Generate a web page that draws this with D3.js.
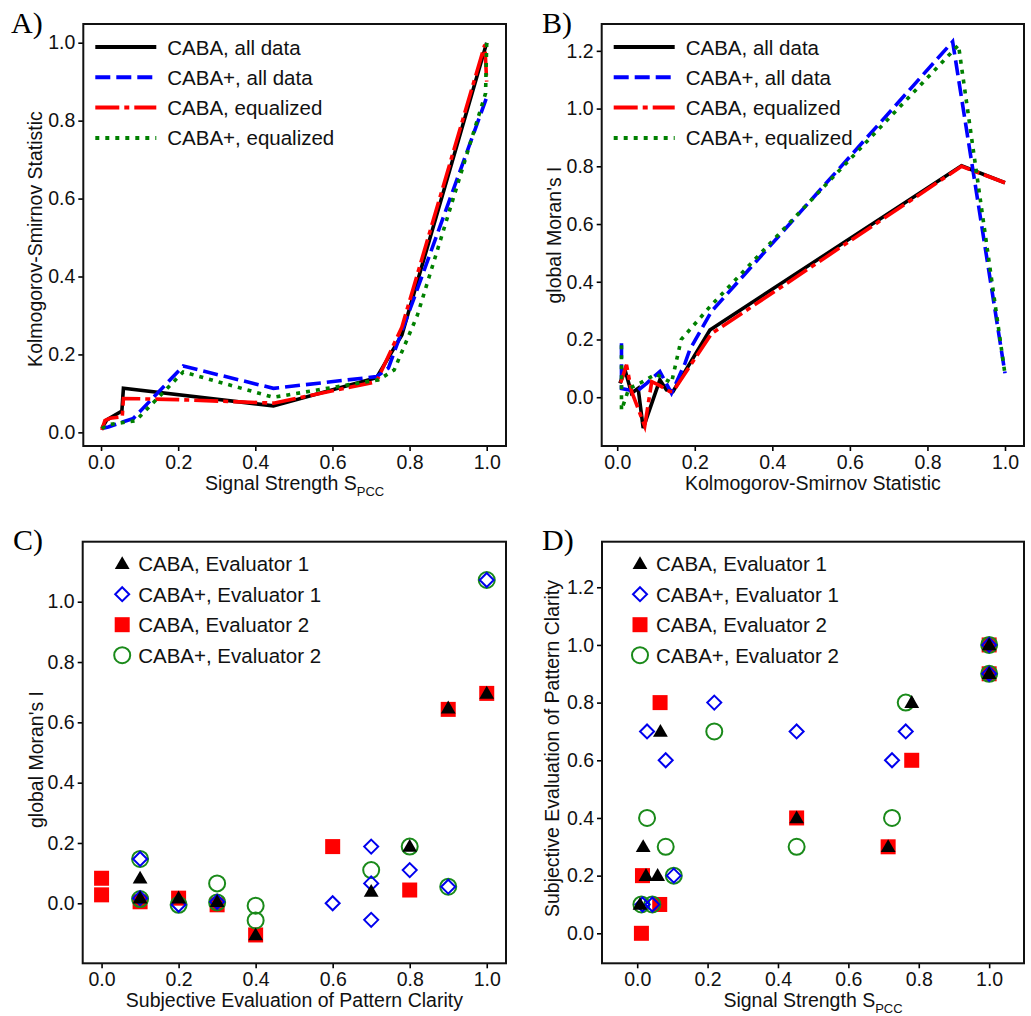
<!DOCTYPE html>
<html>
<head>
<meta charset="utf-8">
<script src="https://cdn.jsdelivr.net/npm/d3@7"></script>
<style>
  body { margin: 0; background: #fff; }
  svg { display: block; font-family: "Liberation Sans", Arial, sans-serif; }
</style>
</head>
<body>
<svg id="chart" width="1031" height="1016"></svg>
<script>
// panel A: KS statistic vs signal strength
const aCabaAll = [[0.002,0.01],[0.015,0.032],[0.054,0.055],[0.058,0.113],[0.447,0.068],[0.714,0.14],[0.78,0.25],[1.0,1.0]];
const aCabaPlusAll = [[0.002,0.01],[0.019,0.014],[0.084,0.036],[0.213,0.17],[0.447,0.113],[0.714,0.143],[0.745,0.165],[0.81,0.34],[1.0,0.86]];
const aCabaEq = [[0.002,0.006],[0.01,0.03],[0.023,0.036],[0.055,0.04],[0.058,0.087],[0.2,0.084],[0.447,0.075],[0.714,0.13],[0.78,0.27],[0.995,0.995],[1.0,0.9]];
const aCabaPlusEq = [[0.002,0.01],[0.02,0.02],[0.09,0.03],[0.213,0.155],[0.447,0.09],[0.72,0.135],[0.76,0.16],[0.82,0.3],[0.997,0.87],[1.0,1.0]];

// panel B: Moran's I vs KS statistic
const bCabaAll = [[0.007,0.048],[0.02,0.095],[0.037,0.014],[0.054,0.031],[0.067,-0.107],[0.11,0.06],[0.127,0.025],[0.144,0.02],[0.239,0.233],[0.888,0.802],[1.0,0.743]];
const bCabaPlusAll = [[0.011,0.187],[0.011,0.03],[0.05,0.02],[0.076,0.048],[0.11,0.089],[0.14,0.014],[0.175,0.118],[0.187,0.164],[0.243,0.297],[0.865,1.232],[1.0,0.083]];
const bCabaEq = [[0.009,0.05],[0.024,0.112],[0.037,0.02],[0.071,-0.1],[0.089,0.054],[0.11,0.04],[0.135,0.02],[0.144,0.02],[0.243,0.22],[0.888,0.8],[1.0,0.743]];
const bCabaPlusEq = [[0.011,0.18],[0.011,-0.045],[0.03,0.03],[0.06,0.05],[0.1,0.08],[0.14,0.05],[0.165,0.2],[0.24,0.315],[0.88,1.22],[1.0,0.08]];

// panel C: Moran's I vs subjective evaluation
const cCabaEval1 = [[0.1,0.083],[0.1,0.017],[0.2,0.017],[0.3,0.005],[0.4,-0.105],[0.7,0.039],[0.8,0.188],[0.9,0.647],[1.0,0.696]];
const cCabaPlusEval1 = [[0.1,0.147],[0.1,0.017],[0.2,-0.005],[0.3,0.005],[0.6,0.0],[0.7,0.188],[0.7,0.066],[0.7,-0.055],[0.8,0.11],[0.9,0.055],[1.0,1.072]];
const cCabaEval2 = [[0.0,0.083],[0.0,0.028],[0.1,0.005],[0.2,0.017],[0.3,-0.005],[0.4,-0.105],[0.6,0.188],[0.8,0.044],[0.9,0.643],[1.0,0.696]];
const cCabaPlusEval2 = [[0.1,0.147],[0.1,0.014],[0.2,-0.005],[0.3,0.066],[0.3,0.003],[0.4,-0.008],[0.4,-0.057],[0.7,0.11],[0.8,0.188],[0.9,0.055],[1.0,1.072]];

// panel D: subjective evaluation vs signal strength
const dCabaEval1 = [[0.017,0.3],[0.025,0.2],[0.058,0.2],[0.008,0.1],[0.066,0.7],[0.453,0.4],[0.713,0.3],[0.78,0.8],[1.0,1.0],[1.0,0.9]];
const dCabaPlusEval1 = [[0.028,0.7],[0.081,0.6],[0.015,0.1],[0.043,0.1],[0.104,0.2],[0.219,0.8],[0.453,0.7],[0.724,0.6],[0.763,0.7],[1.0,1.0],[1.0,0.9]];
const dCabaEval2 = [[0.012,0.0],[0.015,0.2],[0.064,0.1],[0.065,0.8],[0.453,0.4],[0.713,0.3],[0.78,0.6],[1.0,1.0],[1.0,0.9]];
const dCabaPlusEval2 = [[0.028,0.4],[0.081,0.3],[0.012,0.1],[0.043,0.1],[0.104,0.2],[0.219,0.7],[0.453,0.3],[0.724,0.4],[0.763,0.8],[1.0,1.0],[1.0,0.9]];

const lineNames = ["CABA, all data", "CABA+, all data", "CABA, equalized", "CABA+, equalized"];
const scatterNames = ["CABA, Evaluator 1", "CABA+, Evaluator 1", "CABA, Evaluator 2", "CABA+, Evaluator 2"];
const xTicks = [0, 0.2, 0.4, 0.6, 0.8, 1.0];

const svg = d3.select("#chart");

const lineStyles = [
  {color: "#000000", dash: null},
  {color: "#0000ff", dash: "15,6"},
  {color: "#ff0000", dash: "24,5,5,5"},
  {color: "#008000", dash: "4,6"}
];

function makePanel(p) {
  const g = svg.append("g");
  const x = d3.scaleLinear().domain(p.xd).range([p.left, p.right]);
  const y = d3.scaleLinear().domain(p.yd).range([p.bottom, p.top]);

  g.append("g")
    .attr("transform", `translate(0,${p.bottom})`)
    .call(d3.axisBottom(x).tickValues(xTicks).tickFormat(d3.format(".1f")).tickSize(5).tickPadding(4).tickSizeOuter(0))
    .call(a => a.select(".domain").remove())
    .call(a => a.selectAll("line").attr("stroke-width", 1.6))
    .call(a => a.selectAll("text").attr("font-size", 19.5).attr("fill", "#111").attr("font-family", "Liberation Sans, Arial, sans-serif"));

  g.append("g")
    .attr("transform", `translate(${p.left},0)`)
    .call(d3.axisLeft(y).tickValues(p.yTicks).tickFormat(d3.format(".1f")).tickSize(5).tickPadding(3).tickSizeOuter(0))
    .call(a => a.select(".domain").remove())
    .call(a => a.selectAll("line").attr("stroke-width", 1.6))
    .call(a => a.selectAll("text").attr("font-size", 19.5).attr("fill", "#111").attr("font-family", "Liberation Sans, Arial, sans-serif"));

  // panel letter
  g.append("text")
    .attr("x", p.lx).attr("y", p.ly)
    .attr("font-family", "Liberation Serif, Times New Roman, serif")
    .attr("font-size", 30)
    .text(p.letter);

  // x label
  const xl = g.append("text")
    .attr("x", (p.left + p.right) / 2 + (p.xlShift || 0)).attr("y", p.bottom + 44)
    .attr("text-anchor", "middle").attr("font-size", 19.5).attr("fill", "#111");
  xl.append("tspan").text(p.xlabel);
  if (p.xsub) xl.append("tspan").attr("dy", 6).attr("font-size", 13).text(p.xsub);

  // y label
  g.append("text")
    .attr("transform", `translate(${p.left - p.ylOff},${(p.top + p.bottom) / 2 + (p.ylShift || 0)}) rotate(-90)`)
    .attr("text-anchor", "middle").attr("font-size", 19.5).attr("fill", "#111")
    .text(p.ylabel);

  const plot = g.append("g");
  return {g, plot, x, y};
}

function frame(g, p) {
  g.append("rect")
    .attr("x", p.left).attr("y", p.top)
    .attr("width", p.right - p.left).attr("height", p.bottom - p.top)
    .attr("fill", "none").attr("stroke", "#111").attr("stroke-width", 2);
}

function linePanel(p, series) {
  const {g, plot, x, y} = makePanel(p);
  const line = d3.line().x(d => x(d[0])).y(d => y(d[1]));
  series.forEach((s, i) => {
    plot.append("path")
      .datum(s)
      .attr("d", line)
      .attr("fill", "none")
      .attr("stroke", lineStyles[i].color)
      .attr("stroke-width", 3.6)
      .attr("stroke-dasharray", lineStyles[i].dash);
  });
  // legend
  lineNames.forEach((n, i) => {
    const ly = p.top + 23 + i * 30.3;
    g.append("line")
      .attr("x1", p.left + p.legX).attr("x2", p.left + p.legX + 61)
      .attr("y1", ly).attr("y2", ly)
      .attr("stroke", lineStyles[i].color).attr("stroke-width", 4)
      .attr("stroke-dasharray", lineStyles[i].dash);
    g.append("text")
      .attr("x", p.left + p.legX + 72).attr("y", ly + 7.5)
      .attr("font-size", 20.5).attr("fill", "#111")
      .text(n);
  });
  frame(g, p);
}

function drawMarker(sel, kind, cx, cy) {
  if (kind === "tri") {
    sel.append("path")
      .attr("d", d3.symbol().type(d3.symbolTriangle).size(95)())
      .attr("transform", `translate(${cx},${cy + 1})`)
      .attr("fill", "#000");
  } else if (kind === "dia") {
    sel.append("path")
      .attr("d", `M0,-7L7,0L0,7L-7,0Z`)
      .attr("transform", `translate(${cx},${cy})`)
      .attr("fill", "none").attr("stroke", "#0000ee").attr("stroke-width", 2);
  } else if (kind === "sq") {
    sel.append("rect")
      .attr("x", cx - 7.5).attr("y", cy - 7.5).attr("width", 15).attr("height", 15)
      .attr("fill", "#ff0000");
  } else {
    sel.append("circle")
      .attr("cx", cx).attr("cy", cy).attr("r", 8)
      .attr("fill", "none").attr("stroke", "#1a8a1a").attr("stroke-width", 2);
  }
}

function scatterPanel(p, series) {
  const {g, plot, x, y} = makePanel(p);
  const kinds = ["tri", "dia", "sq", "circ"];
  // draw order: squares, circles, diamonds, triangles
  [2, 3, 1, 0].forEach(i => {
    series[i].forEach(d => drawMarker(plot, kinds[i], x(d[0]), y(d[1])));
  });
  scatterNames.forEach((n, i) => {
    const ly = p.top + 22 + i * 30.5;
    drawMarker(g, kinds[i], p.left + p.legX, ly);
    g.append("text")
      .attr("x", p.left + p.legX + 16).attr("y", ly + 7.5)
      .attr("font-size", 20.5).attr("fill", "#111")
      .text(n);
  });
  frame(g, p);
}

linePanel({
  left: 83.3, right: 506, top: 24, bottom: 446,
  xd: [-0.046, 1.05], yd: [-0.035, 1.048],
  yTicks: [0, 0.2, 0.4, 0.6, 0.8, 1.0],
  letter: "A)", lx: 11, ly: 33,
  xlabel: "Signal Strength S", xsub: "PCC",
  ylabel: "Kolmogorov-Smirnov Statistic",
  ylOff: 41, ylShift: 4,
  legX: 12
}, [aCabaAll, aCabaPlusAll, aCabaEq, aCabaPlusEq]);

linePanel({
  left: 601.7, right: 1024, top: 24, bottom: 446,
  xd: [-0.040, 1.049], yd: [-0.169, 1.293],
  yTicks: [0, 0.2, 0.4, 0.6, 0.8, 1.0, 1.2],
  letter: "B)", lx: 542, ly: 33,
  xlabel: "Kolmogorov-Smirnov Statistic",
  ylabel: "global Moran's I",
  ylOff: 41, ylShift: 0,
  legX: 12
}, [bCabaAll, bCabaPlusAll, bCabaEq, bCabaPlusEq]);

scatterPanel({
  left: 82.7, right: 506, top: 541.7, bottom: 963.3,
  xd: [-0.049, 1.05], yd: [-0.199, 1.199],
  yTicks: [0, 0.2, 0.4, 0.6, 0.8, 1.0],
  letter: "C)", lx: 13, ly: 550,
  xlabel: "Subjective Evaluation of Pattern Clarity",
  ylabel: "global Moran's I",
  ylOff: 40, ylShift: 7,
  legX: 39.5
}, [cCabaEval1, cCabaPlusEval1, cCabaEval2, cCabaPlusEval2]);

scatterPanel({
  left: 602, right: 1024, top: 541.7, bottom: 963.3,
  xd: [-0.1, 1.099], yd: [-0.104, 1.358],
  yTicks: [0, 0.2, 0.4, 0.6, 0.8, 1.0, 1.2],
  letter: "D)", lx: 542, ly: 550,
  xlabel: "Signal Strength S", xsub: "PCC",
  ylabel: "Subjective Evaluation of Pattern Clarity",
  ylOff: 43, ylShift: -4,
  legX: 38
}, [dCabaEval1, dCabaPlusEval1, dCabaEval2, dCabaPlusEval2]);
</script>
</body>
</html>
